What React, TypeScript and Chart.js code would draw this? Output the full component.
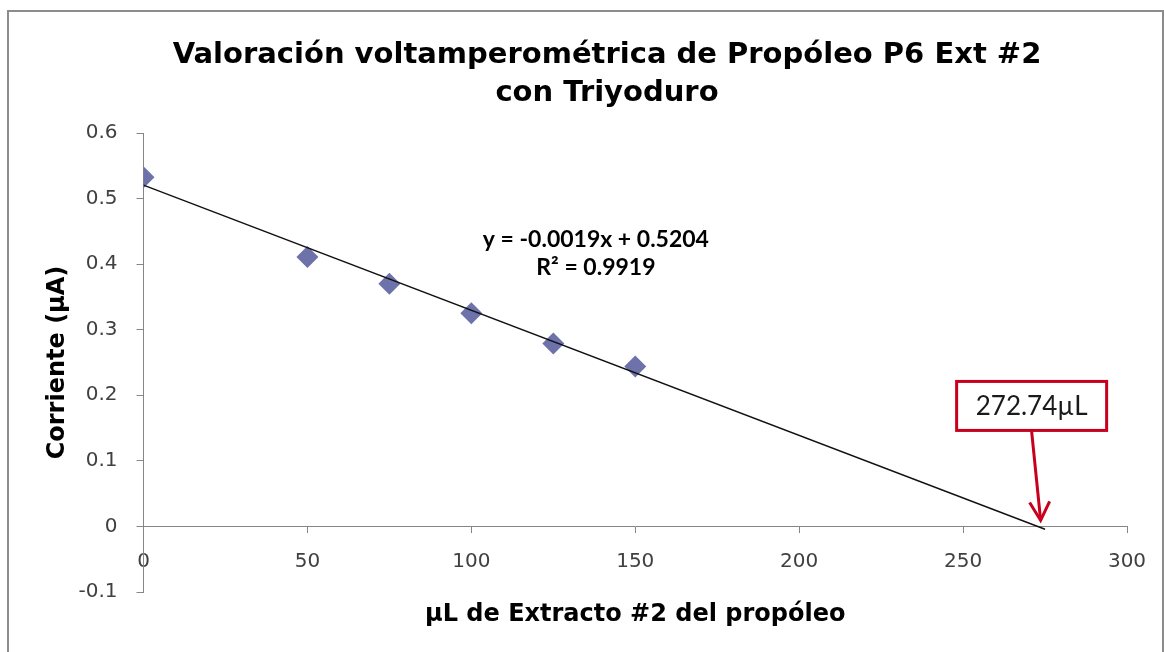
import { useEffect, useRef } from "react";
import { Chart, registerables } from "chart.js";

Chart.register(...registerables);

// ---- data ----
const volumes = [0, 50, 75, 100, 125, 150];
const currents = [0.5325, 0.411, 0.37, 0.325, 0.279, 0.244];
const trendVolumes = [0, 275];
const trendCurrents = [0.5204, -0.0043];
const xTickValues = [0, 50, 100, 150, 200, 250, 300];
const yTickValues = [-0.1, 0, 0.1, 0.2, 0.3, 0.4, 0.5, 0.6];
const yTickLabels = ["-0.1", "0", "0.1", "0.2", "0.3", "0.4", "0.5", "0.6"];
const titleLines = ["Valoración voltamperométrica de Propóleo P6 Ext #2", "con Triyoduro"];
const equationLines = ["y = -0.0019x + 0.5204", "R² = 0.9919"];
const endpointVolume = 272.74;
const endpointLabel = "272.74µL";
const xTitle = "µL de Extracto #2 del propóleo";
const yTitle = "Corriente (µA)";

const FONT = '"DejaVu Sans", Verdana, sans-serif';
const CAL = 'Lato, "Open Sans", sans-serif';
const AXIS_GRAY = "#868686";
const TICK_COLOR = "#404040";
const MARKER = "#6E72AA";
const RED = "#C8001E";

const overlayPlugin = {
  id: "overlay",
  afterDraw(chart: any) {
    const ctx = chart.ctx as CanvasRenderingContext2D;
    const xs = chart.scales.x;
    const ys = chart.scales.y;
    ctx.save();
    // main title
    ctx.fillStyle = "#000";
    ctx.textAlign = "center";
    ctx.textBaseline = "middle";
    ctx.font = `bold 29px ${FONT}`;
    ctx.fillText(titleLines[0], 607, 55);
    ctx.fillText(titleLines[1], 607, 93);

    // regression equation
    ctx.font = `bold 23px ${CAL}`;
    const ex = xs.getPixelForValue(138);
    const ey = ys.getPixelForValue(0.437);
    ctx.fillText(equationLines[0], ex, ey);
    ctx.fillText(equationLines[1], ex, ey + 28);

    // endpoint annotation
    const tipX = xs.getPixelForValue(endpointVolume) + 3;
    const tipY = ys.getPixelForValue(0) - 6;
    const boxW = 150;
    const boxH = 49;
    const boxCx = tipX - 9;
    const boxTop = tipY - 139;
    ctx.fillStyle = "#fff";
    ctx.fillRect(boxCx - boxW / 2, boxTop, boxW, boxH);
    ctx.strokeStyle = RED;
    ctx.lineWidth = 3;
    ctx.strokeRect(boxCx - boxW / 2, boxTop, boxW, boxH);
    ctx.fillStyle = "#1a1a1a";
    ctx.font = `26px ${CAL}`;
    ctx.fillText(endpointLabel, boxCx, boxTop + boxH / 2 + 1);

    // arrow
    ctx.beginPath();
    ctx.moveTo(boxCx, boxTop + boxH + 1);
    ctx.lineTo(tipX, tipY);
    ctx.stroke();
    ctx.beginPath();
    ctx.moveTo(tipX - 11, tipY - 18);
    ctx.lineTo(tipX, tipY);
    ctx.lineTo(tipX + 9, tipY - 19);
    ctx.stroke();
    ctx.restore();
  },
};

export default function App() {
  const ref = useRef<HTMLCanvasElement>(null);

  useEffect(() => {
    const chart = new Chart(ref.current as HTMLCanvasElement, {
      type: "scatter",
      data: {
        datasets: [
          {
            label: "Tendencia",
            data: trendVolumes.map((v, i) => ({ x: v, y: trendCurrents[i] })),
            showLine: true,
            borderColor: "#111",
            borderWidth: 1.4,
            pointRadius: 0,
            order: 0,
          },
          {
            label: "Corriente",
            data: volumes.map((v, i) => ({ x: v, y: currents[i] })),
            pointStyle: "rectRot",
            pointRadius: 11,
            backgroundColor: MARKER,
            borderColor: MARKER,
            borderWidth: 0,
            showLine: false,
            order: 1,
          },
        ],
      },
      options: {
        animation: false,
        responsive: false,
        devicePixelRatio: 1,
        layout: { padding: { left: 0, right: 37, top: 133, bottom: 60 } },
        plugins: {
          legend: { display: false },
          tooltip: { enabled: false },
          title: { display: false },
        },
        scales: {
          x: {
            type: "linear",
            position: { y: 0 } as any,
            min: xTickValues[0],
            max: xTickValues[xTickValues.length - 1],
            afterBuildTicks(scale: any) {
              scale.ticks = xTickValues.map((v) => ({ value: v }));
            },
            ticks: {
              color: TICK_COLOR,
              font: { family: FONT, size: 20 },
              padding: 17,
              maxRotation: 0,
              callback: (v: any) => String(v),
            },
            grid: {
              display: true,
              drawOnChartArea: false,
              drawTicks: true,
              tickLength: 6,
              color: AXIS_GRAY,
            },
            border: { display: true, color: AXIS_GRAY, width: 1 },
            title: {
              display: true,
              text: xTitle,
              color: "#000",
              font: { family: FONT, size: 24, weight: "bold" },
              padding: { top: 10, bottom: 0 },
            },
          },
          y: {
            type: "linear",
            min: yTickValues[0],
            max: yTickValues[yTickValues.length - 1],
            afterFit(scale: any) {
              scale.width = 143.5;
            },
            afterBuildTicks(scale: any) {
              scale.ticks = yTickValues.map((v) => ({ value: v }));
            },
            ticks: {
              color: TICK_COLOR,
              font: { family: FONT, size: 20 },
              padding: 19,
              callback: (_v: any, i: number) => yTickLabels[i],
            },
            grid: {
              display: true,
              drawOnChartArea: false,
              drawTicks: true,
              tickLength: 7,
              color: AXIS_GRAY,
            },
            border: { display: true, color: AXIS_GRAY, width: 1 },
            title: {
              display: true,
              text: yTitle,
              color: "#000",
              font: { family: FONT, size: 24, weight: "bold" },
              padding: { top: 43, bottom: 0 },
            },
          },
        },
      },
      plugins: [overlayPlugin],
    });
    return () => chart.destroy();
  }, []);

  return (
    <div
      style={{
        position: "fixed",
        left: 0,
        top: 0,
        width: 1164,
        height: 652,
        overflow: "hidden",
        background: "#fff",
      }}
    >
      <canvas
        ref={ref}
        width={1164}
        height={652}
        style={{ position: "absolute", left: 0, top: 0, width: 1164, height: 652 }}
      />
      <div
        style={{
          position: "absolute",
          left: 7,
          top: 10,
          width: 1153,
          height: 700,
          border: "2px solid #8c8c8c",
          pointerEvents: "none",
        }}
      />
    </div>
  );
}
